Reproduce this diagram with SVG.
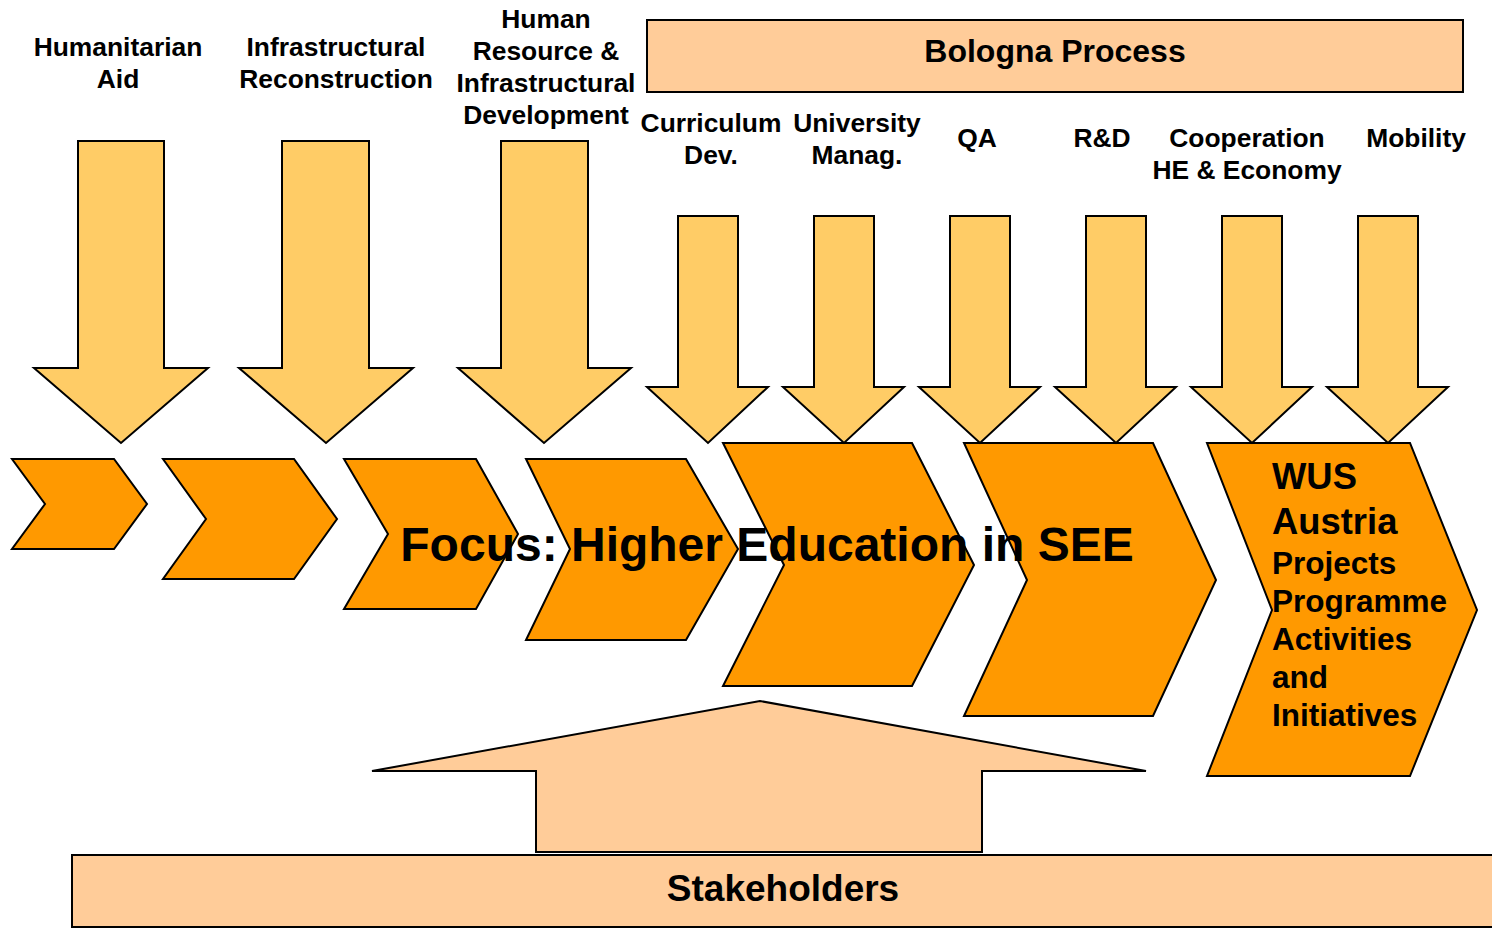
<svg xmlns="http://www.w3.org/2000/svg" width="1492" height="928" viewBox="0 0 1492 928">
<style>
  .t { font-family: "Liberation Sans", Arial, sans-serif; font-weight: bold; fill: #000; }
  .lbl { font-size: 26.4px; text-anchor: middle; }
  .arrow { fill: #FFCC66; stroke: #000; stroke-width: 2; stroke-linejoin: miter; }
  .chev { fill: #FF9900; stroke: #000; stroke-width: 2; stroke-linejoin: miter; }
  .peach { fill: #FFCC99; stroke: #000; stroke-width: 2; }
</style>
<rect width="1492" height="928" fill="#fff"/>

<g id="bologna">
  <rect class="peach" x="647" y="20" width="816" height="72"/>
  <text class="t" x="1055" y="62" font-size="32" text-anchor="middle">Bologna Process</text>
</g>

<g id="chevrons">
  <polygon class="chev" points="12,459 114,459 147,504 114,549 12,549 45,504"/>
  <polygon class="chev" points="163,459 294,459 337,519 294,579 163,579 206,519"/>
  <polygon class="chev" points="344,459 476,459 518,534 476,609 344,609 388,534"/>
  <polygon class="chev" points="526,459 686,459 738,549 686,640 526,640 570,549"/>
  <polygon class="chev" points="723,443 912,443 974,565 912,686 723,686 784,565"/>
  <polygon class="chev" points="964,443 1153,443 1216,580 1153,716 964,716 1027,580"/>
</g>

<g id="wus">
  <polygon class="chev" points="1207,443 1410,443 1477,610 1410,776 1207,776 1272,610"/>
  <text class="t" x="1272" y="489" font-size="36.4">WUS</text>
  <text class="t" x="1272" y="534" font-size="36.4">Austria</text>
  <text class="t" x="1272" y="574" font-size="31.5">Projects</text>
  <text class="t" x="1272" y="612" font-size="31.5">Programme</text>
  <text class="t" x="1272" y="650" font-size="31.5">Activities</text>
  <text class="t" x="1272" y="688" font-size="31.5">and</text>
  <text class="t" x="1272" y="726" font-size="31.5">Initiatives</text>
</g>

<g id="connectors">
  <polygon class="arrow" points="78,141 164,141 164,368 208,368 121,443 34,368 78,368"/>
  <polygon class="arrow" points="282,141 369,141 369,368 413,368 326,443 239,368 282,368"/>
  <polygon class="arrow" points="501,141 588,141 588,368 631,368 544,443 458,368 501,368"/>
  <polygon class="arrow" points="678,216 738,216 738,387 768,387 708,443 647,387 678,387"/>
  <polygon class="arrow" points="814,216 874,216 874,387 904,387 844,443 783,387 814,387"/>
  <polygon class="arrow" points="950,216 1010,216 1010,387 1040,387 980,443 919,387 950,387"/>
  <polygon class="arrow" points="1086,216 1146,216 1146,387 1176,387 1116,443 1055,387 1086,387"/>
  <polygon class="arrow" points="1222,216 1282,216 1282,387 1312,387 1252,443 1191,387 1222,387"/>
  <polygon class="arrow" points="1358,216 1418,216 1418,387 1448,387 1388,443 1327,387 1358,387"/>
  <polygon class="peach" points="536,852 536,771 372,771 760,701 1146,771 982,771 982,852"/>
</g>

<g id="labels">
  <text class="t lbl" x="118" y="56">Humanitarian</text>
  <text class="t lbl" x="118" y="88">Aid</text>
  <text class="t lbl" x="336" y="56">Infrastructural</text>
  <text class="t lbl" x="336" y="88">Reconstruction</text>
  <text class="t lbl" x="546" y="28">Human</text>
  <text class="t lbl" x="546" y="60">Resource &amp;</text>
  <text class="t lbl" x="546" y="92">Infrastructural</text>
  <text class="t lbl" x="546" y="124">Development</text>
  <text class="t lbl" x="711" y="132">Curriculum</text>
  <text class="t lbl" x="711" y="164">Dev.</text>
  <text class="t lbl" x="857" y="132">University</text>
  <text class="t lbl" x="857" y="164">Manag.</text>
  <text class="t lbl" x="977" y="147">QA</text>
  <text class="t lbl" x="1102" y="147">R&amp;D</text>
  <text class="t lbl" x="1247" y="147">Cooperation</text>
  <text class="t lbl" x="1247" y="179">HE &amp; Economy</text>
  <text class="t lbl" x="1416" y="147">Mobility</text>
</g>

<g id="stakeholders">
  <rect class="peach" x="72" y="855" width="1430" height="72"/>
  <text class="t" x="783" y="901" font-size="37" text-anchor="middle">Stakeholders</text>
</g>

<g id="focus">
  <text class="t" x="767" y="561" font-size="48" text-anchor="middle">Focus: Higher Education in SEE</text>
</g>
</svg>
